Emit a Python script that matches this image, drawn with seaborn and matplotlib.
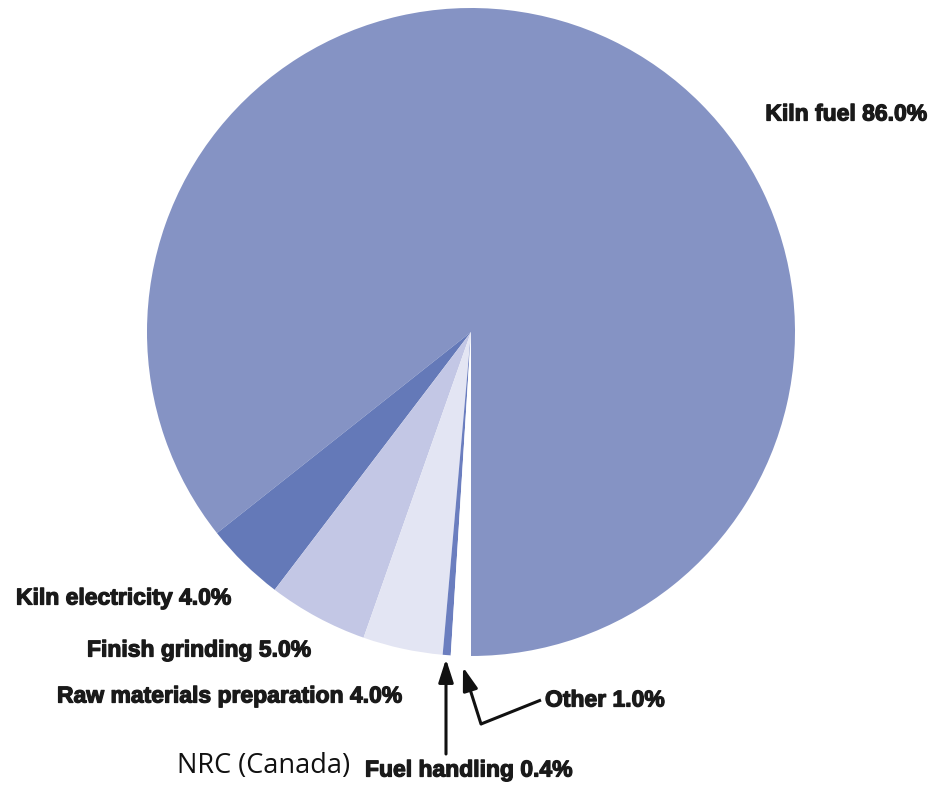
import matplotlib
matplotlib.use("Agg")
import matplotlib.pyplot as plt
import matplotlib.patheffects as pe
from matplotlib.patches import FancyArrowPatch
import seaborn as sns

categories = ["Kiln fuel", "Kiln electricity", "Finish grinding",
              "Raw materials preparation", "Fuel handling", "Other"]
values = [86.0, 4.0, 5.0, 4.0, 0.4, 1.0]
colors = ["#8593c4", "#6479b8", "#c3c7e5", "#e3e5f3", "#6b7ebf", "#ffffff"]
source = "NRC (Canada)"

sns.set_theme(style="white")
plt.rcParams['font.family'] = ['Liberation Sans', 'DejaVu Sans']

W, H = 931, 787
fig = plt.figure(figsize=(W / 100, H / 100), dpi=100)
cx, cy, r = 471, 332, 324
ax = fig.add_axes([(cx - r) / W, (H - cy - r) / H, 2 * r / W, 2 * r / H])
ax.pie(values, colors=colors, startangle=-90, counterclock=True,
       wedgeprops=dict(linewidth=0))
ax.set_xlim(-1, 1)
ax.set_ylim(-1, 1)
ax.set_aspect("equal")
ax.axis("off")


def fx(x):
    return x / W


def fy(y):
    return 1 - y / H


heavy = [pe.withStroke(linewidth=0.9, foreground="#1a1a1a")]
lab = dict(fontsize=16.5, fontweight="bold", color="#1a1a1a", va="center",
           path_effects=heavy)
fig.text(fx(927), fy(114), f"{categories[0]} {values[0]:.1f}%", ha="right", **lab)
fig.text(fx(16), fy(598), f"{categories[1]} {values[1]:.1f}%", ha="left", **lab)
fig.text(fx(87), fy(650), f"{categories[2]} {values[2]:.1f}%", ha="left", **lab)
fig.text(fx(57), fy(696), f"{categories[3]} {values[3]:.1f}%", ha="left", **lab)
fig.text(fx(545), fy(700), f"{categories[5]} {values[5]:.1f}%", ha="left", **lab)
fig.text(fx(365), fy(770), f"{categories[4]} {values[4]:.1f}%", ha="left", **lab)
fig.text(fx(177), fy(766), source, ha="left", va="center",
         fontsize=19.5, family=["Open Sans", "DejaVu Sans"], color="#111111")

style = "-|>,head_length=14,head_width=4.5"
a1 = FancyArrowPatch((fx(446), fy(754)), (fx(446), fy(659)),
                     transform=fig.transFigure, arrowstyle=style,
                     color="#111111", lw=2.2, mutation_scale=1,
                     shrinkA=0, shrinkB=0)
fig.add_artist(a1)
fig.add_artist(plt.Line2D([fx(541), fx(481)], [fy(700), fy(724)],
                          color="#111111", lw=2.2, solid_capstyle="butt"))
a2 = FancyArrowPatch((fx(481), fy(724)), (fx(463), fy(667)),
                     transform=fig.transFigure, arrowstyle=style,
                     color="#111111", lw=2.2, mutation_scale=1,
                     shrinkA=0, shrinkB=0)
fig.add_artist(a2)

fig.savefig("out.png", dpi=100, facecolor="white")
